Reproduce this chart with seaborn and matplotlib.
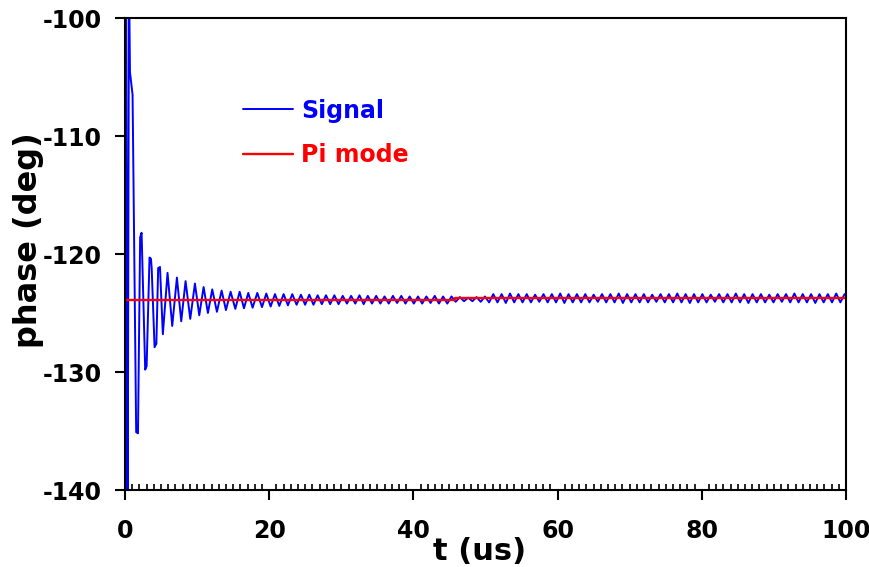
import numpy as np
import pandas as pd
import seaborn as sns

import matplotlib
matplotlib.use("Agg")
import matplotlib.pyplot as plt
from matplotlib.ticker import MultipleLocator


# Signal: first part read point by point (ringing after t = 0)
early_t = [0.0, 0.15, 0.35, 0.55, 0.69, 1.05, 1.55, 1.8, 2.1, 2.3,
           2.8, 3.0, 3.4, 3.6, 3.7, 4.1, 4.35, 4.6, 4.85, 5.25,
           5.9, 6.55, 7.2, 7.8, 8.4, 9.05, 9.7, 10.3, 10.9, 11.5,
           12.1, 12.75, 13.4, 14.0, 14.65, 15.3, 15.9, 16.5, 17.1, 17.7,
           18.35, 19.0, 19.6, 20.2, 20.8, 21.4, 22.0, 22.6, 23.2, 23.8]
early_phase = [-145, -95, -150, -96, -104.6, -106.5, -135.1, -135.2, -118.6, -118.2,
               -129.8, -129.5, -120.3, -120.4, -121.2, -127.9, -127.6, -121.2, -121.1, -126.8,
               -121.6, -126.1, -122.0, -125.7, -122.3, -125.5, -122.5, -125.2, -122.8, -125.0,
               -123.0, -124.9, -123.1, -124.75, -123.2, -124.65, -123.2, -124.6, -123.3, -124.55,
               -123.3, -124.5, -123.35, -124.45, -123.4, -124.4, -123.4, -124.35, -123.4, -124.3]

# Signal: later part, alternating peaks / troughs every half period
late_start = 24.4
late_half_period = 0.58
late_peaks = [-123.45, -123.45, -123.5, -123.5, -123.5,
              -123.55, -123.55, -123.5, -123.55, -123.55, -123.6, -123.55, -123.55, -123.6,
              -123.6, -123.6, -123.55, -123.6, -123.6,
              -123.65, -123.7, -123.65, -123.6,
              -123.4, -123.4, -123.35, -123.4, -123.4, -123.45, -123.4, -123.4, -123.35, -123.4,
              -123.4, -123.4, -123.45, -123.4, -123.4, -123.35, -123.4, -123.4, -123.4, -123.45,
              -123.4, -123.4, -123.35, -123.4, -123.4, -123.4, -123.45, -123.4, -123.4, -123.35,
              -123.4, -123.4, -123.4, -123.45, -123.4, -123.4, -123.35, -123.4, -123.4, -123.4,
              -123.4, -123.35, -123.4]
late_troughs = [-124.3, -124.3, -124.25, -124.25, -124.25,
                -124.2, -124.2, -124.25, -124.2, -124.2, -124.2, -124.15, -124.2,
                -124.2, -124.2, -124.15, -124.2, -124.2, -124.05,
                -124.0, -124.0, -124.05,
                -124.1, -124.1, -124.15, -124.1, -124.1, -124.1, -124.05, -124.1, -124.1, -124.15,
                -124.1, -124.1, -124.1, -124.05, -124.1, -124.1, -124.15, -124.1, -124.1, -124.1,
                -124.05, -124.1, -124.1, -124.1, -124.15, -124.1, -124.1, -124.05, -124.1, -124.1,
                -124.1, -124.15, -124.1, -124.1, -124.1, -124.05, -124.1, -124.1, -124.1, -124.15,
                -124.1, -124.1, -124.1]

# Pi mode reference (small step near 46 us)
pi_t = [0.0, 45.8, 45.8, 100.0]
pi_phase = [-123.9, -123.9, -123.72, -123.72]


if __name__ == "__main__":
    n_late = len(late_peaks) + len(late_troughs)
    late_t = late_start + late_half_period * np.arange(n_late)
    late_phase = np.empty(n_late)
    late_phase[0::2] = late_peaks
    late_phase[1::2] = late_troughs

    df_sig = pd.DataFrame({
        "t": np.concatenate([early_t, late_t]),
        "phase": np.concatenate([early_phase, late_phase]),
    })
    df_pi = pd.DataFrame({"t": pi_t, "phase": pi_phase})

    sns.set_style("ticks")
    plt.rcParams["font.family"] = ["DejaVu Sans"]
    plt.rcParams["font.weight"] = "bold"
    plt.rcParams["axes.unicode_minus"] = False

    fig = plt.figure(figsize=(8.7, 5.67), dpi=100)
    ax = fig.add_axes([125 / 870, 77 / 567, 721 / 870, 472 / 567])

    sns.lineplot(data=df_sig, x="t", y="phase", ax=ax, color="#0000ff",
                 lw=1.4, sort=False, estimator=None, label="Signal")
    sns.lineplot(data=df_pi, x="t", y="phase", ax=ax, color="#ff0000",
                 lw=1.7, sort=False, estimator=None, label="Pi mode")

    ax.set_xlim(0, 100)
    ax.set_ylim(-140, -100)
    ax.xaxis.set_major_locator(MultipleLocator(20))
    ax.xaxis.set_minor_locator(MultipleLocator(1))
    ax.yaxis.set_major_locator(MultipleLocator(10))

    for s in ax.spines.values():
        s.set_visible(True)
        s.set_linewidth(1.5)
        s.set_color("black")

    ax.tick_params(axis="both", which="major", direction="out", length=7,
                   width=1.5, labelsize=17, color="black", labelcolor="black")
    ax.tick_params(axis="x", which="major", pad=14)
    ax.tick_params(axis="y", which="major", pad=10)
    ax.tick_params(axis="x", which="minor", direction="in", length=4,
                   width=1.2, bottom=True, top=False, color="black")

    ax.set_xlabel("t (us)", fontsize=22, fontweight="bold", color="black")
    ax.set_ylabel("phase (deg)", fontsize=23, fontweight="bold", color="black")
    ax.xaxis.set_label_coords(0.492, -0.10)
    ax.yaxis.set_label_coords(-0.113, 0.53)

    leg = ax.legend(loc="upper left", bbox_to_anchor=(0.164, 0.829),
                    frameon=False, fontsize=17, handlelength=2.1,
                    handletextpad=0.35, labelspacing=0.88,
                    borderpad=0, borderaxespad=0)
    for txt, c in zip(leg.get_texts(), ["#0000ff", "#ff0000"]):
        txt.set_color(c)
        txt.set_fontweight("bold")

    plt.savefig("out.png", dpi=100)
